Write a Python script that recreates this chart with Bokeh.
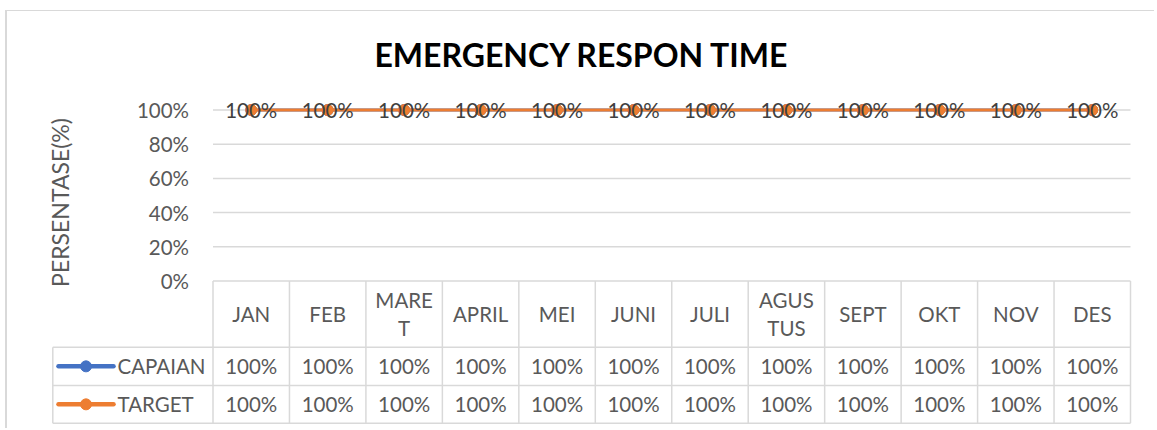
from bokeh.plotting import figure
from bokeh.models import Range1d, LinearAxis, FixedTicker, NumeralTickFormatter
from bokeh.core.properties import value
from bokeh.embed import file_html
from bokeh.resources import INLINE

# ---------------- data ----------------
TITLE = "EMERGENCY RESPON TIME"
Y_TITLE = "PERSENTASE(%)"
MONTHS = ["JAN", "FEB", "MARET", "APRIL", "MEI", "JUNI", "JULI",
          "AGUSTUS", "SEPT", "OKT", "NOV", "DES"]
SERIES_NAMES = ["CAPAIAN", "TARGET"]
CAPAIAN = [1.00, 1.00, 1.00, 1.00, 1.00, 1.00, 1.00, 1.00, 1.00, 1.00, 1.00, 1.00]
TARGET = [1.00, 1.00, 1.00, 1.00, 1.00, 1.00, 1.00, 1.00, 1.00, 1.00, 1.00, 1.00]
Y_TICKS = [0.0, 0.2, 0.4, 0.6, 0.8, 1.0]
# header cells that wrap in the data table (break position)
HEADER_BREAKS = {"MARET": 4, "AGUSTUS": 4}

# ---------------- style ----------------
FONT_NAME = "Lato"
FONT = value(FONT_NAME)
C_BLUE = "#4472C4"
C_ORANGE = "#ED7D31"
C_GRID = "#D9D9D9"
C_TEXT = "#595959"
C_LABEL = "#404040"
FS = "20.5px"

# ---------------- layout (page pixels) ----------------
OX, OY = 7, 11          # canvas origin on the page
W, H = 1149, 418
FRAME_TOP = 90
PX_X0, PX_X12 = 212.5, 1130.0   # category band edges
PX_Y0, PX_Y1 = 280.5, 109.5     # 0% and 100%


def dx(px):
    return (px - PX_X0) / ((PX_X12 - PX_X0) / len(MONTHS))


def dy(py):
    return (PX_Y0 - py) / (PX_Y0 - PX_Y1)


HDR_BOTTOM = dy(346.7)
ROW1_BOTTOM = dy(385.0)
ROW2_BOTTOM = dy(422.7)
LEG_LEFT = dx(52.3)

p = figure(width=W, height=H, output_backend="svg", toolbar_location=None,
           x_range=Range1d(dx(OX), dx(OX + W)),
           y_range=Range1d(dy(OY + H), dy(FRAME_TOP)),
           x_axis_location=None, y_axis_location=None,
           min_border_left=0, min_border_right=0, min_border_bottom=0,
           min_border_top=FRAME_TOP - OY)
p.styles = {"margin-left": "5px", "margin-top": "10px",
            "border-top": "1px solid #D9D9D9", "border-left": "2px solid #D9D9D9"}
p.grid.visible = False
p.outline_line_color = None
p.background_fill_color = "white"
p.border_fill_color = "white"

p.title.text = TITLE
p.title.align = "center"
p.title.text_font = FONT_NAME
p.title.text_font_size = "32px"
p.title.text_font_style = "bold"
p.title.text_color = "#000000"
p.title.standoff = 33

# y axis fixed at the left edge of the category band
yaxis = LinearAxis(fixed_location=0, ticker=FixedTicker(ticks=Y_TICKS),
                   formatter=NumeralTickFormatter(format="0%"),
                   axis_label=Y_TITLE, bounds=(-0.08, 1))
yaxis.axis_line_color = None
yaxis.major_tick_line_color = None
yaxis.minor_tick_line_color = None
yaxis.major_label_text_font = FONT_NAME
yaxis.major_label_text_font_size = FS
yaxis.major_label_text_color = C_TEXT
yaxis.major_label_standoff = 18
yaxis.axis_label_text_font = FONT_NAME
yaxis.axis_label_text_font_size = "23px"
yaxis.axis_label_text_font_style = "normal"
yaxis.axis_label_text_color = C_TEXT
yaxis.axis_label_standoff = 60
p.add_layout(yaxis, "left")

n = len(MONTHS)
centers = [i + 0.5 for i in range(n)]

# horizontal gridlines over the category band
grid_y = [t for t in Y_TICKS if t > 0]
p.segment(x0=[0] * len(grid_y), x1=[n] * len(grid_y), y0=grid_y, y1=grid_y,
          line_color=C_GRID, line_width=1.5)

# data table borders
hy = [0, HDR_BOTTOM, ROW1_BOTTOM, ROW2_BOTTOM]
hx0 = [0, LEG_LEFT, LEG_LEFT, LEG_LEFT]
p.segment(x0=hx0, x1=[n] * 4, y0=hy, y1=hy, line_color=C_GRID, line_width=1.5)
vx = list(range(n + 1))
p.segment(x0=vx, x1=vx, y0=[0] * len(vx), y1=[ROW2_BOTTOM] * len(vx),
          line_color=C_GRID, line_width=1.5)
p.segment(x0=[LEG_LEFT], x1=[LEG_LEFT], y0=[HDR_BOTTOM], y1=[ROW2_BOTTOM],
          line_color=C_GRID, line_width=1.5)


def wrap(name):
    k = HEADER_BREAKS.get(name)
    return name if k is None else name[:k] + "\n" + name[k:]


p.text(x=centers, y=[(0 + HDR_BOTTOM) / 2] * n, text=[wrap(m) for m in MONTHS],
       text_font=FONT, text_font_size=FS, text_color=C_TEXT,
       text_align="center", text_baseline="middle", text_line_height=1.2)

row_y = [(HDR_BOTTOM + ROW1_BOTTOM) / 2, (ROW1_BOTTOM + ROW2_BOTTOM) / 2]
series = [CAPAIAN, TARGET]
colors = [C_BLUE, C_ORANGE]

for vals, ry in zip(series, row_y):
    p.text(x=centers, y=[ry] * n, text=[f"{v:.0%}" for v in vals],
           text_font=FONT, text_font_size=FS, text_color=C_TEXT,
           text_align="center", text_baseline="middle")

# legend keys in the table
for name, col, ry in zip(SERIES_NAMES, colors, row_y):
    p.line(x=[dx(58), dx(113)], y=[ry, ry], line_color=col, line_width=4.5, line_cap="round")
    p.scatter(x=[dx(85.5)], y=[ry], marker="circle", size=11, fill_color=col, line_color=col)
    p.text(x=[dx(117)], y=[ry], text=[name], text_font=FONT, text_font_size=FS,
           text_color=C_TEXT, text_align="left", text_baseline="middle")

# series lines
for vals, col in zip(series, colors):
    p.line(x=centers, y=vals, line_color=col, line_width=3, line_cap="round")
    p.scatter(x=centers, y=vals, marker="circle", size=11, fill_color=col, line_color=col)

# data labels
p.text(x=centers, y=TARGET, text=[f"{v:.0%}" for v in TARGET],
       text_font=FONT, text_font_size=FS, text_color=C_LABEL,
       text_align="center", text_baseline="middle")

open("out.html", "w").write(file_html(p, INLINE))
